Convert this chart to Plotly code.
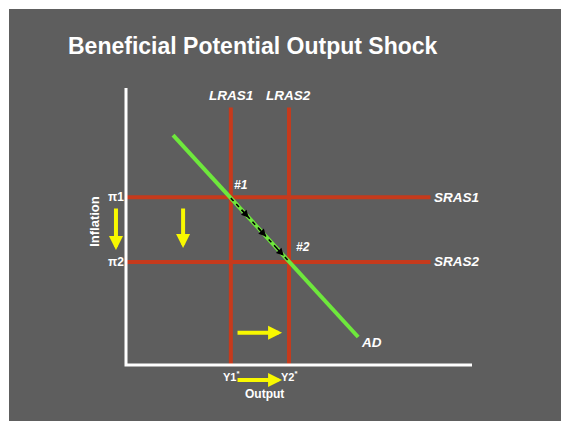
import numpy as np
import plotly.graph_objects as go

# ---------------- data (economic diagram units, axes run 0..100) ----------------
lras_labels = ["LRAS1", "LRAS2"]
lras_x = [30.3, 47.1]            # potential output Y1*, Y2*
lras_top = 93.0
sras_labels = ["SRAS1", "SRAS2"]
sras_y = [60.6, 37.2]            # inflation pi1, pi2
sras_end = 88.0
pi_labels = ["π1", "π2"]
y_labels = ["Y1<sup>*</sup>", "Y2<sup>*</sup>"]
point_labels = ["#1", "#2"]
ad_x = [13.6, 67.1]
ad_y = [83.0, 10.1]
# yellow shift arrows: (tail_x, tail_y, head_x, head_y)
shift_arrows = [
    (-2.9, 57.0, -2.9, 41.5),
    (16.5, 57.0, 16.5, 42.2),
    (31.8, 11.6, 45.1, 11.6),
    (31.8, -5.4, 45.1, -5.4),
]
# small black arrowheads along AD between #1 and #2 (x positions)
path_arrow_x = [35.5, 40.5, 45.6]

# ---------------- styling / layout constants ----------------
W, H = 561, 421
PX_X0, PX_X1 = 126, 472   # pixel of x=0 and x=100
PX_Y0, PX_Y1 = 365, 88    # pixel of y=0 and y=100
sx = (PX_X1 - PX_X0) / 100
sy = (PX_Y0 - PX_Y1) / 100
xrange = [-PX_X0 / sx, (W - PX_X0) / sx]
yrange = [-(H - PX_Y0) / sy, PX_Y0 / sy]

BG = "#5e5e5e"
RED = "#c63a1c"
GREEN = "#6ee83c"
YELLOW = "#f8f800"
FONT = "Liberation Sans, Arial, sans-serif"

fig = go.Figure()

# red curves
for xv in lras_x:
    fig.add_trace(go.Scatter(x=[xv, xv], y=[0, lras_top], mode="lines",
                             line=dict(color=RED, width=4), hoverinfo="skip"))
for yv in sras_y:
    fig.add_trace(go.Scatter(x=[0, sras_end], y=[yv, yv], mode="lines",
                             line=dict(color=RED, width=4), hoverinfo="skip"))

# axes
fig.add_trace(go.Scatter(x=[0, 0, 100], y=[100, 0, 0], mode="lines",
                         line=dict(color="white", width=3), hoverinfo="skip"))

# AD
fig.add_trace(go.Scatter(x=ad_x, y=ad_y, mode="lines",
                         line=dict(color=GREEN, width=4), hoverinfo="skip"))

# dashed black path between #1 and #2
def ad_at(x):
    return np.interp(x, ad_x, ad_y)

fig.add_trace(go.Scatter(x=[lras_x[0], lras_x[1]], y=[ad_at(lras_x[0]), ad_at(lras_x[1])],
                         mode="lines", line=dict(color="black", width=1.5, dash="4px,4px"),
                         hoverinfo="skip"))

annotations = []
for hx in path_arrow_x:
    annotations.append(dict(x=hx, y=float(ad_at(hx)), ax=hx - 2.5, ay=float(ad_at(hx - 2.5)),
                            xref="x", yref="y", axref="x", ayref="y", text="",
                            showarrow=True, arrowhead=2, arrowsize=1.0, arrowwidth=1.5,
                            arrowcolor="black", standoff=0))

for (tx, ty, hx, hy) in shift_arrows:
    annotations.append(dict(x=hx, y=hy, ax=tx, ay=ty, xref="x", yref="y", axref="x", ayref="y",
                            text="", showarrow=True, arrowhead=2, arrowsize=0.7,
                            arrowwidth=4, arrowcolor=YELLOW, standoff=0))

lab_font = dict(family=FONT, size=13.5, color="white")
# LRAS labels
for xv, lab in zip(lras_x, lras_labels):
    annotations.append(dict(x=xv, y=lras_top, xref="x", yref="y", text=f"<b><i>{lab}</i></b>",
                            showarrow=False, xanchor="center", yanchor="bottom", yshift=2,
                            font=lab_font))
# SRAS labels
for yv, lab in zip(sras_y, sras_labels):
    annotations.append(dict(x=sras_end, y=yv, xref="x", yref="y", text=f"<b><i>{lab}</i></b>",
                            showarrow=False, xanchor="left", yanchor="middle", xshift=2,
                            font=lab_font))
# equilibrium labels
shifts = [(1, 3), (5, 6)]
for xv, yv, lab, (dx, dy) in zip(lras_x, sras_y, point_labels, shifts):
    annotations.append(dict(x=xv, y=yv, xref="x", yref="y", text=f"<b><i>{lab}</i></b>",
                            showarrow=False, xanchor="left", yanchor="bottom", xshift=dx, yshift=dy,
                            font=dict(family=FONT, size=12, color="white")))
# AD label
annotations.append(dict(x=ad_x[1], y=ad_y[1], xref="x", yref="y", text="<b><i>AD</i></b>",
                        showarrow=False, xanchor="left", yanchor="middle", xshift=1, yshift=-5,
                        font=lab_font))
# pi labels
for yv, lab in zip(sras_y, pi_labels):
    annotations.append(dict(x=0, y=yv, xref="x", yref="y", text=f"<b>{lab}</b>",
                            showarrow=False, xanchor="right", yanchor="middle", xshift=0,
                            font=dict(family=FONT, size=12, color="white")))
# Y* labels
for xv, lab in zip(lras_x, y_labels):
    annotations.append(dict(x=xv, y=0, xref="x", yref="y", text=f"<b>{lab}</b>",
                            showarrow=False, xanchor="center", yanchor="top", yshift=-2,
                            font=dict(family=FONT, size=11, color="white")))
# axis titles
annotations.append(dict(x=40, y=-10.5, xref="x", yref="y", text="<b>Output</b>",
                        showarrow=False, xanchor="center", yanchor="middle",
                        font=dict(family=FONT, size=12, color="white")))
annotations.append(dict(x=-9, y=52, xref="x", yref="y", text="<b>Inflation</b>",
                        showarrow=False, xanchor="center", yanchor="middle", textangle=-90,
                        font=dict(family=FONT, size=13, color="white")))
# title
annotations.append(dict(x=252.5 / W, y=(H - 46) / H, xref="paper", yref="paper",
                        text="<b>Beneficial Potential Output Shock</b>", showarrow=False,
                        xanchor="center", yanchor="middle",
                        font=dict(family=FONT, size=23, color="white")))

fig.update_layout(
    width=W, height=H, autosize=False,
    margin=dict(l=0, r=0, t=0, b=0, pad=0),
    paper_bgcolor=BG, plot_bgcolor="rgba(0,0,0,0)",
    showlegend=False,
    xaxis=dict(range=xrange, visible=False, fixedrange=True, domain=[0, 1]),
    yaxis=dict(range=yrange, visible=False, fixedrange=True, domain=[0, 1]),
    shapes=[
        dict(type="rect", xref="paper", yref="paper", x0=0, x1=1, y0=(H - 9) / H, y1=1,
             fillcolor="white", line=dict(width=0), layer="below"),
        dict(type="rect", xref="paper", yref="paper", x0=0, x1=9 / W, y0=0, y1=1,
             fillcolor="white", line=dict(width=0), layer="below"),
    ],
    annotations=annotations,
)

fig.write_html("out.html", config={"displayModeBar": False},
               post_script="document.body.style.margin='0px';document.body.style.overflow='hidden';"
                           "document.body.style.background='" + BG + "';"
                           "document.documentElement.style.background='" + BG + "';")
